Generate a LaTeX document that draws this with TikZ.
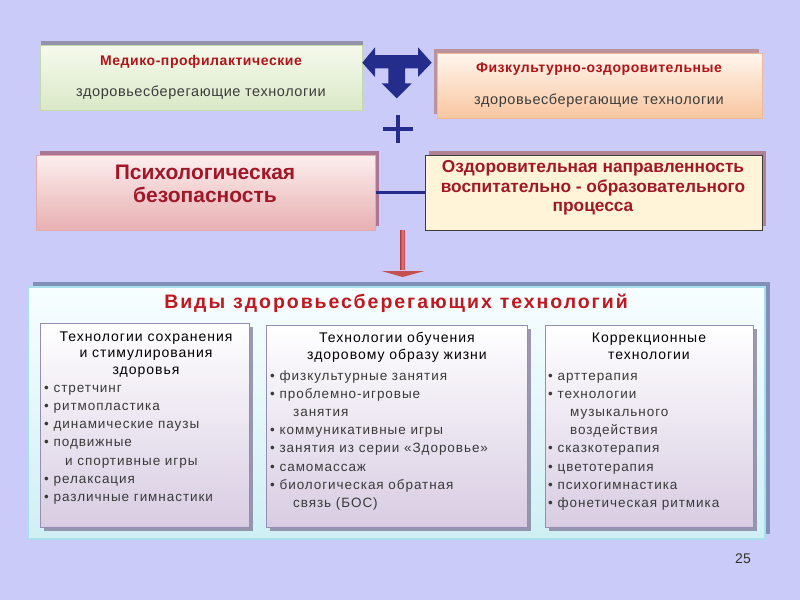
\documentclass[tikz,border=0pt]{standalone}
\usepackage{fontspec}
\setmainfont{Liberation Sans}
\newfontfamily\wide[LetterSpace=7]{Liberation Sans}
\newfontfamily\ttlfont[LetterSpace=10]{Liberation Sans}
\newfontfamily\topfont[LetterSpace=4]{Liberation Sans}
\usetikzlibrary{shadows}
\definecolor{bgc}{RGB}{203,203,250}
\definecolor{navyc}{RGB}{36,44,140}
\definecolor{redt}{RGB}{176,20,24}
\definecolor{darkred}{RGB}{160,24,40}
\definecolor{itemc}{RGB}{58,58,58}
\definecolor{subc}{RGB}{60,60,60}
\definecolor{innerbot}{RGB}{216,204,226}
\definecolor{innerdraw}{RGB}{150,142,176}
\definecolor{innershadow}{RGB}{128,120,152}
\definecolor{medtop}{RGB}{246,250,238}
\definecolor{medbot}{RGB}{218,232,198}
\definecolor{meddraw}{RGB}{196,218,168}
\definecolor{medshadow}{RGB}{110,110,120}
\definecolor{fiztop}{RGB}{255,246,238}
\definecolor{fizbot}{RGB}{248,198,160}
\definecolor{fizdraw}{RGB}{240,186,150}
\definecolor{fizshadow}{RGB}{176,110,96}
\definecolor{psytop}{RGB}{252,238,238}
\definecolor{psybot}{RGB}{232,176,178}
\definecolor{psydraw}{RGB}{226,170,172}
\definecolor{psyshadow}{RGB}{150,60,80}
\definecolor{ozdfill}{RGB}{255,244,216}
\definecolor{ozddraw}{RGB}{60,60,60}
\definecolor{ozdshadow}{RGB}{160,80,80}
\definecolor{paneltop}{RGB}{248,254,255}
\definecolor{panelbot}{RGB}{207,239,245}
\definecolor{paneldraw}{RGB}{168,224,236}
\definecolor{panelshadow}{RGB}{112,128,168}
\definecolor{arrdark}{RGB}{176,60,60}
\definecolor{arrlight}{RGB}{232,120,120}
\definecolor{arrhead}{RGB}{196,80,80}
\definecolor{titlec}{RGB}{192,24,32}
\definecolor{pgc}{RGB}{48,48,48}
\begin{document}
\begin{tikzpicture}[x=1pt,y=-1pt,
  bx/.style={rectangle, inner sep=0pt},
  inner/.style={bx, top color=white, bottom color=innerbot, draw=innerdraw, line width=0.8pt,
     general shadow={fill=innershadow, opacity=.75, shadow xshift=4pt, shadow yshift=-4pt}},
  itm/.style={anchor=base west, inner sep=0pt, font=\wide\fontsize{13.5}{15}\selectfont, text=itemc},
  hd/.style={anchor=base, inner sep=0pt, font=\wide\fontsize{14}{15}\selectfont, text=black},
  toptitle/.style={inner sep=0pt, font=\topfont\bfseries\fontsize{14}{16}\selectfont, text=redt},
  topsub/.style={inner sep=0pt, font=\topfont\fontsize{14.5}{16}\selectfont, text=subc},
]
\useasboundingbox (0,0) rectangle (800,600);
\fill[bgc] (0,0) rectangle (800,600);

% top boxes
\node[bx, minimum width=322pt, minimum height=65pt, top color=medtop, bottom color=medbot, draw=meddraw, line width=1pt,
  general shadow={fill=medshadow, opacity=.6, shadow xshift=1pt, shadow yshift=4pt}] (med) at (201,77.5) {};
\node[toptitle] (medt) at (201,62) {Медико-профилактические};
\node[topsub] (meds) at (201,93) {здоровьесберегающие технологии};

\node[bx, minimum width=325pt, minimum height=65pt, top color=fiztop, bottom color=fizbot, draw=fizdraw, line width=1pt,
  general shadow={fill=fizshadow, opacity=.6, shadow xshift=-3pt, shadow yshift=4pt}] (fiz) at (599.5,85.5) {};
\node[toptitle] (fizt) at (599,69) {Физкультурно-оздоровительные};
\node[topsub] (fizs) at (599,101) {здоровьесберегающие технологии};

% T arrow
\fill[navyc] (362.3,62.7) -- (375,47.3) -- (375,55) -- (418,55) -- (418,47.3) -- (431.7,62.7) -- (418,77) -- (418,68.3) -- (405,68.3) -- (405,83.3) -- (411.7,83.3) -- (396.7,98.3) -- (381.7,83.3) -- (388.3,83.3) -- (388.3,68.3) -- (375,68.3) -- (375,77) -- cycle;
% plus
\draw[navyc, line width=4pt] (383,129) -- (413,129);
\draw[navyc, line width=4pt] (398,115) -- (398,143);

% middle boxes
\node[bx, minimum width=339pt, minimum height=75pt, top color=psytop, bottom color=psybot, draw=psydraw, line width=1pt,
  general shadow={fill=psyshadow, opacity=.6, shadow xshift=4pt, shadow yshift=4pt}] (psy) at (205.5,192.5) {};
\node[inner sep=0pt, align=center, font=\bfseries\fontsize{21}{23}\selectfont, text=darkred] (psyt) at (205,183.5) {Психологическая\\безопасность};

\node[bx, minimum width=337pt, minimum height=75pt, fill=ozdfill, draw=ozddraw, line width=1pt,
  general shadow={fill=ozdshadow, opacity=.6, shadow xshift=4pt, shadow yshift=4pt}] (ozd) at (593.5,192.5) {};
\node[inner sep=0pt, align=center, font=\bfseries\fontsize{17.3}{19.5}\selectfont, text=darkred] (ozdt) at (593,188) {Оздоровительная направленность\\воспитательно - образовательного\\процесса};

\draw[navyc, line width=3pt] (psy.east) -- (ozd.west);

% panel
\node[bx, minimum width=737pt, minimum height=252pt, top color=paneltop, bottom color=panelbot, draw=paneldraw, line width=2pt,
  general shadow={fill=panelshadow, opacity=.8, shadow xshift=5pt, shadow yshift=5pt}] (panel) at (396.5,413) {};

% red arrow
\coordinate (rtop) at (402.5,230);
\coordinate (rbot) at (402.5,277);
\shade[left color=arrdark, right color=arrdark, middle color=arrlight] ([xshift=-2.5pt]rtop) rectangle ([xshift=2.5pt,yshift=8pt]rbot);
\fill[arrhead] ([xshift=-21pt,yshift=6pt]rbot) -- ([xshift=22pt,yshift=6pt]rbot) -- (rbot) -- cycle;

\node[inner sep=0pt, font=\ttlfont\bfseries\fontsize{19.5}{22}\selectfont, text=titlec] (title) at (396,303) {Виды\hspace{8pt}здоровьесберегающих\hspace{8pt}технологий};

% inner boxes
\node[inner, minimum width=209pt, minimum height=204pt] (boxA) at (144.5,425) {};
\node[inner, minimum width=261pt, minimum height=202pt] (boxB) at (396.5,426) {};
\node[inner, minimum width=208pt, minimum height=202pt] (boxC) at (649,426) {};

% box A text
\node[hd] (ah1) at (146,341) {Технологии сохранения};
\node[hd] (ah2) at (146,357.5) {и стимулирования};
\node[hd] (ah3) at (146,374.5) {здоровья};
\node[itm] (a1) at (44,392) {• стретчинг};
\node[itm] (a2) at (44,410.3) {• ритмопластика};
\node[itm] (a3) at (44,428.6) {• динамические паузы};
\node[itm] (a4) at (44,446.9) {• подвижные};
\node[itm] (a5) at (65,465.2) {и спортивные игры};
\node[itm] (a6) at (44,483.5) {• релаксация};
\node[itm] (a7) at (44,501.8) {• различные гимнастики};

% box B text
\node[hd] (bh1) at (397,342) {Технологии обучения};
\node[hd] (bh2) at (397,359) {здоровому образу жизни};
\node[itm] (b1) at (270,380) {• физкультурные занятия};
\node[itm] (b2) at (270,398.2) {• проблемно-игровые};
\node[itm] (b3) at (293,416.4) {занятия};
\node[itm] (b4) at (270,434.6) {• коммуникативные игры};
\node[itm] (b5) at (270,452.8) {• занятия из серии «Здоровье»};
\node[itm] (b6) at (270,471) {• самомассаж};
\node[itm] (b7) at (270,489.2) {• биологическая обратная};
\node[itm] (b8) at (293,507.4) {связь (БОС)};

% box C text
\node[hd] (ch1) at (649,342) {Коррекционные};
\node[hd] (ch2) at (649,359) {технологии};
\node[itm] (c1) at (548,380) {• арттерапия};
\node[itm] (c2) at (548,398.2) {• технологии};
\node[itm] (c3) at (570,416.4) {музыкального};
\node[itm] (c4) at (570,434.6) {воздействия};
\node[itm] (c5) at (548,452.8) {• сказкотерапия};
\node[itm] (c6) at (548,471) {• цветотерапия};
\node[itm] (c7) at (548,489.2) {• психогимнастика};
\node[itm] (c8) at (548,507.4) {• фонетическая ритмика};

\node[inner sep=0pt, font=\fontsize{14}{16}\selectfont, text=pgc] (pnum) at (743,559) {25};
\end{tikzpicture}
\end{document}
